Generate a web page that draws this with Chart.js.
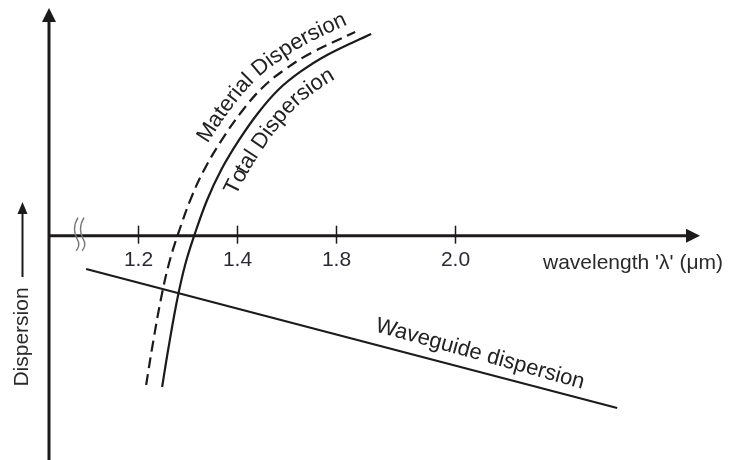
<!DOCTYPE html>
<html><head><meta charset="utf-8">
<script src="https://cdn.jsdelivr.net/npm/chart.js@4/dist/chart.umd.min.js"></script>
<style>html,body{margin:0;padding:0;background:#fff}#wrap{width:734px;height:460px}</style>
</head><body><div id="wrap"><canvas id="c" width="734" height="460"></canvas></div>
<script>
// Schematic axis: positions of labelled ticks on the (non-uniform) wavelength axis
const tickPositions = [1.2, 1.4, 1.6, 1.84];
const tickLabels = ['1.2', '1.4', '1.8', '2.0'];

// Total dispersion (solid curve)
const totalX = [1.2485, 1.2606, 1.2788, 1.2949, 1.3131, 1.3394, 1.3677, 1.4040, 1.4424, 1.4828, 1.5273, 1.5818, 1.6707];
const totalY = [-6.745, -5.096, -2.867, -1.306, -0.013, 1.592, 2.929, 4.267, 5.470, 6.495, 7.298, 8.056, 8.993];

// Material dispersion (dashed curve)
const materialX = [1.2162, 1.2283, 1.2465, 1.2626, 1.2808, 1.3071, 1.3354, 1.3717, 1.4101, 1.4505, 1.4950, 1.5495, 1.6384];
const materialY = [-6.656, -5.007, -2.778, -1.217, 0.076, 1.681, 3.018, 4.356, 5.559, 6.584, 7.387, 8.145, 9.082];

// Waveguide dispersion (straight line)
const waveguideX = [1.095, 2.1677];
const waveguideY = [-1.485, -7.68];

const toPts = (xs, ys) => xs.map((v, i) => ({x: v, y: ys[i]}));
const INK = '#1c1a1b';
const FONT = '"Liberation Sans", Arial, sans-serif';

// sample the rendered spline of a dataset (uses Chart.js control points)
function samplePath(chart, dsIndex, steps) {
  const pts = chart.getDatasetMeta(dsIndex).data;
  const out = [];
  for (let i = 0; i < pts.length - 1; i++) {
    const a = pts[i], b = pts[i + 1];
    const c1x = a.cp2x ?? a.x, c1y = a.cp2y ?? a.y, c2x = b.cp1x ?? b.x, c2y = b.cp1y ?? b.y;
    for (let k = (i === 0 ? 0 : 1); k <= steps; k++) {
      const t = k / steps, m = 1 - t;
      out.push({
        x: m*m*m*a.x + 3*m*m*t*c1x + 3*m*t*t*c2x + t*t*t*b.x,
        y: m*m*m*a.y + 3*m*m*t*c1y + 3*m*t*t*c2y + t*t*t*b.y
      });
    }
  }
  return out;
}
function offsetPath(path, d) {
  return path.map((p, i) => {
    const a = path[Math.max(0, i - 1)], b = path[Math.min(path.length - 1, i + 1)];
    let tx = b.x - a.x, ty = b.y - a.y; const L = Math.hypot(tx, ty) || 1; tx /= L; ty /= L;
    return {x: p.x + d * ty, y: p.y - d * tx, cy: p.y};
  });
}
function arcLengths(path) {
  const s = [0];
  for (let i = 1; i < path.length; i++) s.push(s[i - 1] + Math.hypot(path[i].x - path[i - 1].x, path[i].y - path[i - 1].y));
  return s;
}
function pointAt(path, s, S) {
  let i = 1;
  while (i < path.length - 1 && S[i] < s) i++;
  const a = path[i - 1], b = path[i];
  const f = (s - S[i - 1]) / ((S[i] - S[i - 1]) || 1);
  return {x: a.x + (b.x - a.x) * f, y: a.y + (b.y - a.y) * f, ang: Math.atan2(b.y - a.y, b.x - a.x)};
}
function textOnCurve(ctx, chart, dsIndex, text, offset, startY, font) {
  const path = offsetPath(samplePath(chart, dsIndex, 30), offset);
  const S = arcLengths(path);
  let idx = path.findIndex(p => p.cy <= startY);
  if (idx < 0) idx = 0;
  const s0 = S[idx];
  ctx.save();
  ctx.font = font; ctx.fillStyle = '#222'; ctx.textAlign = 'center'; ctx.textBaseline = 'alphabetic';
  for (let i = 0; i < text.length; i++) {
    const before = ctx.measureText(text.slice(0, i)).width;
    const w = ctx.measureText(text[i]).width;
    const p = pointAt(path, s0 + before + w / 2, S);
    ctx.save(); ctx.translate(p.x, p.y); ctx.rotate(p.ang); ctx.fillText(text[i], 0, 0); ctx.restore();
  }
  ctx.restore();
}

const axesPlugin = {
  id: 'schematicAxes',
  afterDatasetsDraw(chart) {
    const {ctx, scales: {x, y}} = chart;
    const x0 = x.getPixelForValue(x.min);
    const y0 = y.getPixelForValue(0);
    const xEnd = x.getPixelForValue(x.max);
    const yTop = y.getPixelForValue(y.max);
    const yBot = y.getPixelForValue(y.min);
    ctx.save();
    ctx.strokeStyle = INK; ctx.fillStyle = INK;
    ctx.lineWidth = 3;
    // y axis
    ctx.beginPath(); ctx.moveTo(x0, yBot); ctx.lineTo(x0, yTop + 10); ctx.stroke();
    ctx.beginPath(); ctx.moveTo(x0, yTop); ctx.lineTo(x0 - 7, yTop + 14); ctx.lineTo(x0 + 7, yTop + 14); ctx.closePath(); ctx.fill();
    // x axis
    ctx.beginPath(); ctx.moveTo(x0, y0); ctx.lineTo(xEnd - 10, y0); ctx.stroke();
    ctx.beginPath(); ctx.moveTo(xEnd, y0); ctx.lineTo(xEnd - 14, y0 - 7); ctx.lineTo(xEnd - 14, y0 + 7); ctx.closePath(); ctx.fill();
    // ticks + labels
    ctx.lineWidth = 1.5;
    ctx.font = '21px ' + FONT;
    ctx.textAlign = 'center'; ctx.textBaseline = 'alphabetic';
    tickPositions.forEach((v, i) => {
      const px = Math.round(x.getPixelForValue(v)) + 0.5;
      ctx.beginPath(); ctx.moveTo(px, y0 - 10); ctx.lineTo(px, y0 + 8); ctx.stroke();
      ctx.fillStyle = '#2a2a33';
      ctx.fillText(tickLabels[i], px, y0 + 30);
    });
    // axis break mark
    ctx.strokeStyle = '#777'; ctx.lineWidth = 1.4;
    [77, 83].forEach(bx => {
      ctx.beginPath();
      ctx.moveTo(bx + 1, y0 - 18);
      ctx.bezierCurveTo(bx - 4, y0 - 10, bx - 3, y0 - 2, bx, y0 + 3);
      ctx.bezierCurveTo(bx + 3, y0 + 8, bx + 2, y0 + 12, bx - 1, y0 + 15);
      ctx.stroke();
    });
    // x axis title
    ctx.fillStyle = '#2a2a2a';
    ctx.font = '21px ' + FONT;
    ctx.textAlign = 'left';
    ctx.fillText("wavelength '\u03BB' (\u03BCm)", 543, y0 + 33);
    // y axis title (rotated) with arrow
    ctx.save();
    ctx.translate(28, 337);
    ctx.rotate(-Math.PI / 2);
    ctx.textAlign = 'center';
    ctx.fillText('Dispersion', 0, 0);
    ctx.restore();
    ctx.strokeStyle = INK; ctx.fillStyle = INK; ctx.lineWidth = 2;
    ctx.beginPath(); ctx.moveTo(22.5, 277); ctx.lineTo(22.5, 212); ctx.stroke();
    ctx.beginPath(); ctx.moveTo(22.5, 202); ctx.lineTo(17.5, 214); ctx.lineTo(27.5, 214); ctx.closePath(); ctx.fill();
    // curve labels following the curves
    textOnCurve(ctx, chart, 0, 'Material Dispersion', 10, 150, '22px ' + FONT);
    textOnCurve(ctx, chart, 1, 'Total Dispersion', -25, 186, '22px ' + FONT);
    // waveguide label (straight)
    ctx.save();
    ctx.translate(478.5, 360);
    ctx.rotate(15.5 * Math.PI / 180);
    ctx.font = '22px ' + FONT;
    ctx.fillStyle = '#222';
    ctx.textAlign = 'center'; ctx.textBaseline = 'alphabetic';
    ctx.fillText('Waveguide dispersion', 0, 0);
    ctx.restore();
    ctx.restore();
  }
};

new Chart(document.getElementById('c'), {
  type: 'line',
  data: {
    datasets: [
      {label: 'Material Dispersion', data: toPts(materialX, materialY), borderColor: INK, borderWidth: 2.2, borderDash: [11, 6], pointRadius: 0, tension: 0.4, fill: false},
      {label: 'Total Dispersion', data: toPts(totalX, totalY), borderColor: INK, borderWidth: 2.2, pointRadius: 0, tension: 0.4, fill: false},
      {label: 'Waveguide dispersion', data: toPts(waveguideX, waveguideY), borderColor: INK, borderWidth: 2.2, pointRadius: 0, fill: false}
    ]
  },
  options: {
    responsive: false,
    animation: false,
    devicePixelRatio: 1,
    layout: {padding: {left: 49, right: 34, top: 8, bottom: 0}},
    scales: {
      x: {type: 'linear', display: false, min: 1.02, max: 2.335},
      y: {type: 'linear', display: false, min: -10, max: 10.15}
    },
    plugins: {legend: {display: false}, tooltip: {enabled: false}}
  },
  plugins: [axesPlugin]
});
</script>
</body></html>
